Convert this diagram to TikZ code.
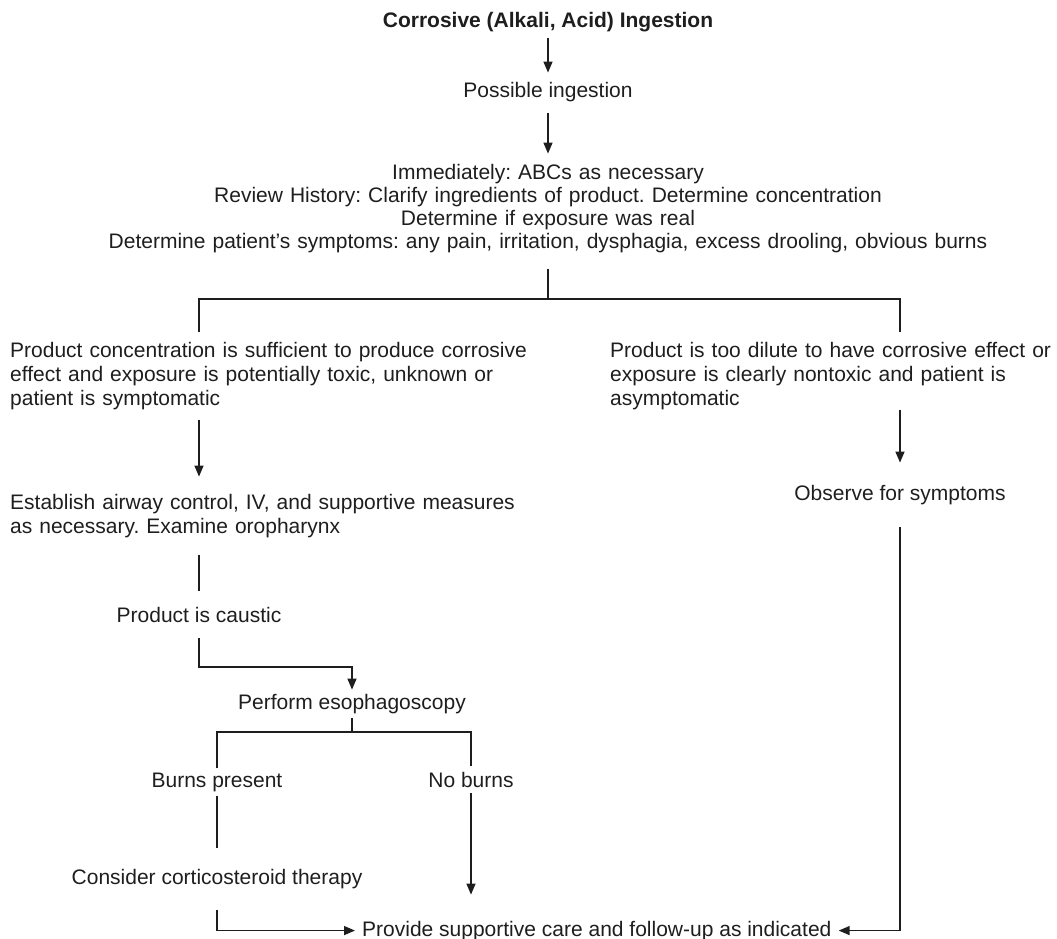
\documentclass[tikz,border=0pt]{standalone}
\usepackage{fontspec}
\setmainfont{Liberation Sans}
\usetikzlibrary{arrows.meta}

\definecolor{ink}{HTML}{1E1E1E}
\newcommand{\chartfont}{\fontsize{21}{24}\selectfont\frenchspacing}

\tikzset{
  lbl/.style={font=\chartfont,text=ink,inner xsep=6pt,anchor=base},
  para/.style={lbl,text width=#1,align=left,anchor=base west,inner xsep=0pt},
  link/.style={draw=ink,line width=1.4pt}
}

\begin{document}
\begin{tikzpicture}[x=1pt,y=-1pt,>={Triangle[length=11pt,width=9pt]}]
\useasboundingbox (0,0) rectangle (1057,939);

\node[lbl,font=\chartfont\bfseries,inner ysep=5.6pt] (ingest) at (548,28) {Corrosive (Alkali, Acid) Ingestion};
\node[lbl,inner ysep=10pt] (possible) at (548,98) {Possible ingestion};
\node[lbl,text width=1100pt,align=center,font=\fontsize{21}{23}\selectfont\frenchspacing,inner ysep=10pt] (history) at (548,179)
  {Immediately: ABCs as necessary\\
   Review History: Clarify ingredients of product. Determine concentration\\
   Determine if exposure was real\\
   Determine patient's symptoms: any pain, irritation, dysphagia, excess drooling, obvious burns};

% the two branches
\node[para=560pt,inner ysep=10pt] (toxic) at (10,357)
  {Product concentration is sufficient to produce corrosive\\effect and exposure is potentially toxic, unknown or\\patient is symptomatic};
\node[para=500pt,inner ysep=10pt] (dilute) at (610,357)
  {Product is too dilute to have corrosive effect or\\exposure is clearly nontoxic and patient is\\asymptomatic};
\node[para=560pt,inner ysep=17pt] (airway) at (10,509)
  {Establish airway control, IV, and supportive measures\\as necessary. Examine oropharynx};
\node[lbl,inner ysep=22pt] (observe) at (900,500) {Observe for symptoms};
\node[lbl,inner ysep=16pt] (caustic) at (199,622) {Product is caustic};
\node[lbl,inner ysep=4pt] (esoph) at (352,709) {Perform esophagoscopy};
\node[lbl,inner ysep=4pt] (burns) at (217,787) {Burns present};
\node[lbl,inner ysep=6pt] (noburns) at (471,787) {No burns};
\node[lbl,inner ysep=21pt] (steroid) at (217,884) {Consider corticosteroid therapy};
\node[lbl,anchor=base west,inner xsep=7pt,inner ysep=26pt] (care) at (355,936) {Provide supportive care and follow-up as indicated};

\coordinate (fork) at (548,299);
\coordinate (bend) at (352,667);
\coordinate (split) at (352,732);

\draw[link,->] (ingest) -- (possible);
\draw[link,->] (possible) -- (history);
\draw[link,shorten <=6pt] (history) -- (fork);
\draw[link] (toxic.north -| caustic) |- (fork) -| (dilute.north -| observe);
\draw[link,->] (toxic.south -| caustic) -- (airway.north -| caustic);
\draw[link,->,shorten <=-10pt] (dilute.south -| observe) -- (observe);
\draw[link] (airway.south -| caustic) -- (caustic);
\draw[link,->] (caustic) |- (bend) -- (esoph);
\draw[link] (esoph) -- (split);
\draw[link] (burns) |- (split) -| (noburns);
\draw[link] (burns) -- (steroid);
\draw[link,->] (noburns) -- (noburns |- care.north);
\draw[link,->] (steroid) |- (care);
\draw[link,->] (observe) |- (care);
\end{tikzpicture}
\end{document}
